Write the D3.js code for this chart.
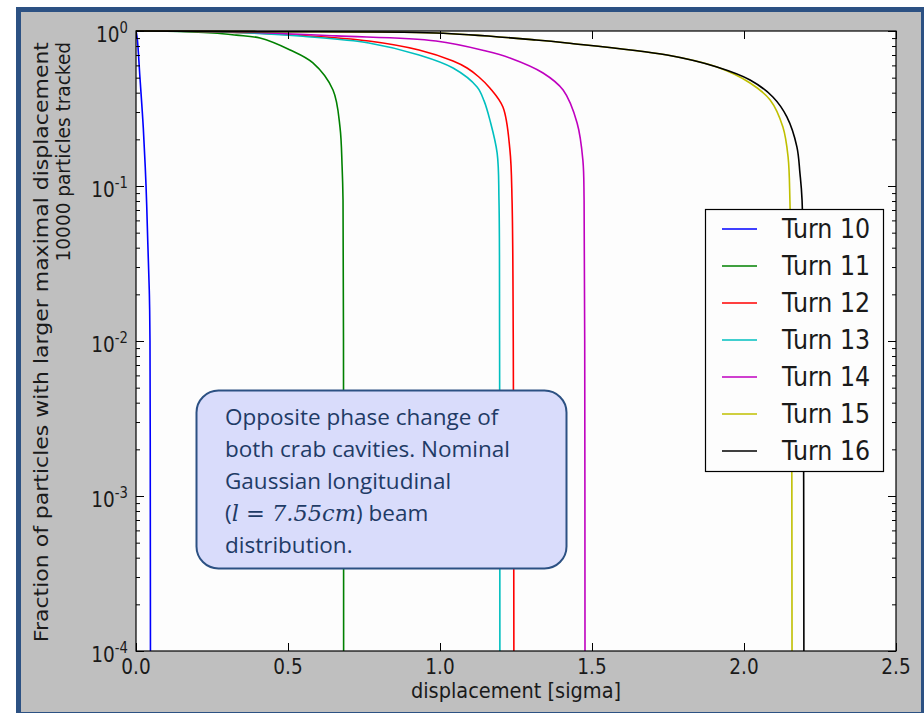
<!DOCTYPE html>
<html>
<head>
<meta charset="utf-8">
<script src="https://cdn.jsdelivr.net/npm/d3@7"></script>
<style>
body { margin: 0; background: #ffffff; }
</style>
</head>
<body>
<script>
// series labels and colours (matplotlib classic b g r c m y k)
var turns = ["Turn 10", "Turn 11", "Turn 12", "Turn 13", "Turn 14", "Turn 15", "Turn 16"];
var colors = ["#0000ff", "#008000", "#ff0000", "#00bfbf", "#bf00bf", "#bfbf00", "#000000"];

// [displacement (sigma), fraction of particles with larger displacement]
var turn10 = [[0, 1], [0.004, 0.9], [0.013, 0.5], [0.024, 0.237], [0.033, 0.1], [0.039, 0.042],
    [0.044, 0.02], [0.046, 0.01], [0.047, 0.001], [0.0475, 0.0001]];
var turn11 = [[0, 1], [0.1, 0.997], [0.253, 0.971], [0.33, 0.94], [0.408, 0.9], [0.507, 0.754], [0.582, 0.622],
    [0.648, 0.416], [0.671, 0.24], [0.678, 0.133], [0.681, 0.081], [0.6825, 0.01], [0.683, 0.0001]];
var turn12 = [[0, 1], [0.25, 0.99], [0.549, 0.935], [0.766, 0.862], [0.931, 0.754], [1.043, 0.64],
    [1.089, 0.577], [1.128, 0.505], [1.164, 0.429], [1.207, 0.323], [1.23, 0.171], [1.237, 0.081],
    [1.241, 0.01], [1.243, 0.0001]];
var turn13 = [[0, 1], [0.2, 0.993], [0.4, 0.965], [0.549, 0.924], [0.766, 0.837], [0.931, 0.7],
    [1.043, 0.577], [1.122, 0.435], [1.145, 0.354], [1.164, 0.267], [1.188, 0.163], [1.194, 0.081],
    [1.196, 0.01], [1.197, 0.0001]];
var turn14 = [[0, 1], [0.3, 0.99], [0.658, 0.93], [0.987, 0.862], [1.151, 0.743], [1.23, 0.67],
    [1.339, 0.536], [1.405, 0.416], [1.451, 0.255], [1.47, 0.147], [1.474, 0.081], [1.476, 0.01], [1.477, 0.0001]];
var turn15 = [[0, 1], [0.4, 0.99], [0.987, 0.97], [1.316, 0.875], [1.418, 0.837], [1.747, 0.7],
    [1.911, 0.586], [2.02, 0.462], [2.086, 0.359], [2.128, 0.24], [2.145, 0.154], [2.151, 0.081],
    [2.156, 0.01], [2.158, 0.0001]];
var turn16 = [[0, 1], [0.4, 0.99], [0.987, 0.97], [1.316, 0.875], [1.418, 0.837], [1.747, 0.7],
    [1.911, 0.586], [2.02, 0.483], [2.095, 0.375], [2.141, 0.279], [2.174, 0.179], [2.184, 0.121],
    [2.191, 0.081], [2.195, 0.01], [2.197, 0.0001]];
var series = [turn10, turn11, turn12, turn13, turn14, turn15, turn16];

// axis ticks
var xTicks = [0, 0.5, 1.0, 1.5, 2.0, 2.5];
var yExponents = [0, -1, -2, -3, -4];

// note text in the rounded box
var noteLines = ["Opposite phase change of", "both crab cavities. Nominal", "Gaussian longitudinal",
    "(l = 7.55cm) beam", "distribution."];

var W = 924, H = 713;
var mLeft = 136, mTop = 31, pw = 760, ph = 620;
var squeeze = 0.88; // matplotlib figure text looks narrowed in the slide

var svg = d3.select("body").append("svg")
    .attr("width", W)
    .attr("height", H);

// slide frame: blue border, grey panel
svg.append("rect")
    .attr("x", 18.5).attr("y", 9.5)
    .attr("width", 905).attr("height", 705)
    .style("fill", "#bfbfbf")
    .style("stroke", "#2c5183")
    .style("stroke-width", 5);

var x = d3.scaleLinear().domain([0, 2.5]).range([mLeft, mLeft + pw]);
var y = d3.scaleLog().domain([1e-4, 1]).range([mTop + ph, mTop]);

// plot background
svg.append("rect")
    .attr("x", mLeft).attr("y", mTop)
    .attr("width", pw).attr("height", ph)
    .style("fill", "#fdfdfd");

svg.append("clipPath").attr("id", "plotclip")
    .append("rect")
    .attr("x", mLeft).attr("y", mTop - 1)
    .attr("width", pw).attr("height", ph + 1);

var line = d3.line()
    .x(function(d){ return x(d[0]); })
    .y(function(d){ return y(d[1]); })
    .curve(d3.curveCatmullRom.alpha(0.5));

svg.append("g").attr("clip-path", "url(#plotclip)")
    .selectAll(".curve")
    .data(series)
    .enter()
    .append("path")
    .attr("class", "curve")
    .attr("d", line)
    .style("fill", "none")
    .style("stroke", function(d, i){ return colors[i]; })
    .style("stroke-width", 1.6);

// ticks point inwards on all four sides
var minorTicks = [];
yExponents.forEach(function(e){
    if (e === 0) return;
    for (var k = 2; k <= 9; k++) minorTicks.push(k * Math.pow(10, e));
});
var majorTicks = yExponents.map(function(e){ return Math.pow(10, e); });

function tickStyle(g){
    g.select(".domain").remove();
    g.selectAll("line").style("stroke", "#000").style("stroke-width", 1);
    g.selectAll("text").remove();
}

svg.append("g").attr("transform", "translate(0," + (mTop + ph) + ")")
    .call(d3.axisBottom(x).tickValues(xTicks).tickSize(-8)).call(tickStyle);
svg.append("g").attr("transform", "translate(0," + mTop + ")")
    .call(d3.axisTop(x).tickValues(xTicks).tickSize(-8)).call(tickStyle);
svg.append("g").attr("transform", "translate(" + mLeft + ",0)")
    .call(d3.axisLeft(y).tickValues(majorTicks).tickSize(-8)).call(tickStyle);
svg.append("g").attr("transform", "translate(" + (mLeft + pw) + ",0)")
    .call(d3.axisRight(y).tickValues(majorTicks).tickSize(-8)).call(tickStyle);
svg.append("g").attr("transform", "translate(" + mLeft + ",0)")
    .call(d3.axisLeft(y).tickValues(minorTicks).tickSize(-4)).call(tickStyle);
svg.append("g").attr("transform", "translate(" + (mLeft + pw) + ",0)")
    .call(d3.axisRight(y).tickValues(minorTicks).tickSize(-4)).call(tickStyle);

// frame
svg.append("rect")
    .attr("x", mLeft).attr("y", mTop)
    .attr("width", pw).attr("height", ph)
    .style("fill", "none")
    .style("stroke", "#000")
    .style("stroke-width", 1.2);

var mplFont = "'DejaVu Sans', sans-serif";

// x tick labels
svg.selectAll(".xlab")
    .data(xTicks)
    .enter()
    .append("text")
    .attr("class", "xlab")
    .attr("transform", function(d){ return "translate(" + x(d) + "," + (mTop + ph + 23) + ") scale(" + squeeze + ",1)"; })
    .attr("text-anchor", "middle")
    .style("font-family", mplFont)
    .style("font-size", "21px")
    .style("fill", "#1a1a1a")
    .text(function(d){ return d.toFixed(1); });

// y tick labels 10^n
var ylab = svg.selectAll(".ylab")
    .data(yExponents)
    .enter()
    .append("text")
    .attr("class", "ylab")
    .attr("transform", function(d){ return "translate(128," + (y(Math.pow(10, d)) + 11) + ") scale(" + squeeze + ",1)"; })
    .attr("text-anchor", "end")
    .style("font-family", mplFont)
    .style("fill", "#1a1a1a");
ylab.append("tspan")
    .style("font-size", "21px")
    .text("10");
ylab.append("tspan")
    .attr("dy", -9)
    .style("font-size", "15px")
    .text(function(d){ return d === 0 ? "0" : "-" + Math.abs(d); });

// axis titles
svg.append("text")
    .attr("transform", "translate(" + (mLeft + pw / 2) + ",698) scale(" + squeeze + ",1)")
    .attr("text-anchor", "middle")
    .style("font-family", mplFont)
    .style("font-size", "22px")
    .style("fill", "#1a1a1a")
    .text("displacement [sigma]");

svg.append("text")
    .attr("transform", "translate(48,42) scale(" + squeeze + ",1) rotate(-90)")
    .attr("text-anchor", "end")
    .style("font-family", mplFont)
    .style("font-size", "22px")
    .style("fill", "#1a1a1a")
    .text("Fraction of particles with larger maximal displacement");
svg.append("text")
    .attr("transform", "translate(70,42) scale(1.05,1) rotate(-90)")
    .attr("text-anchor", "end")
    .style("font-family", mplFont)
    .style("font-size", "18.5px")
    .style("fill", "#1a1a1a")
    .text("10000 particles tracked");

// legend
var legend = svg.append("g").attr("class", "legend");
legend.append("rect")
    .attr("x", 705.5).attr("y", 209.5)
    .attr("width", 178).attr("height", 262)
    .style("fill", "#fdfdfd")
    .style("stroke", "#000")
    .style("stroke-width", 1.2);
var items = legend.selectAll(".item")
    .data(turns)
    .enter()
    .append("g")
    .attr("class", "item")
    .attr("transform", function(d, i){ return "translate(0," + (229 + i * 37) + ")"; });
items.append("line")
    .attr("x1", 722).attr("x2", 757)
    .attr("y1", 0).attr("y2", 0)
    .style("stroke", function(d, i){ return colors[i]; })
    .style("stroke-width", 1.6);
items.append("text")
    .attr("transform", "translate(782,9) scale(" + squeeze + ",1)")
    .style("font-family", mplFont)
    .style("font-size", "27px")
    .style("fill", "#1a1a1a")
    .text(function(d){ return d; });

// note box
svg.append("rect")
    .attr("x", 196.5).attr("y", 390.5)
    .attr("width", 370).attr("height", 178)
    .attr("rx", 22).attr("ry", 22)
    .style("fill", "#d9dcfb")
    .style("stroke", "#2c5183")
    .style("stroke-width", 2);

var note = svg.append("g")
    .style("font-family", "'Open Sans', sans-serif")
    .style("fill", "#1f3b66");
noteLines.forEach(function(t, i){
    var txt = note.append("text")
        .attr("x", 225)
        .attr("y", 425 + i * 32)
        .style("font-size", "22.5px");
    if (t.indexOf("l = ") === 1) {
        txt.append("tspan").text("(");
        txt.append("tspan").style("font-family", "'DejaVu Serif', serif").style("font-style", "italic").text("l");
        txt.append("tspan").style("font-family", "'DejaVu Serif', serif").text(" = ");
        txt.append("tspan").style("font-family", "'DejaVu Serif', serif").style("font-style", "italic").text("7.55cm");
        txt.append("tspan").text(") beam");
    } else {
        txt.text(t);
    }
});
</script>
</body>
</html>
